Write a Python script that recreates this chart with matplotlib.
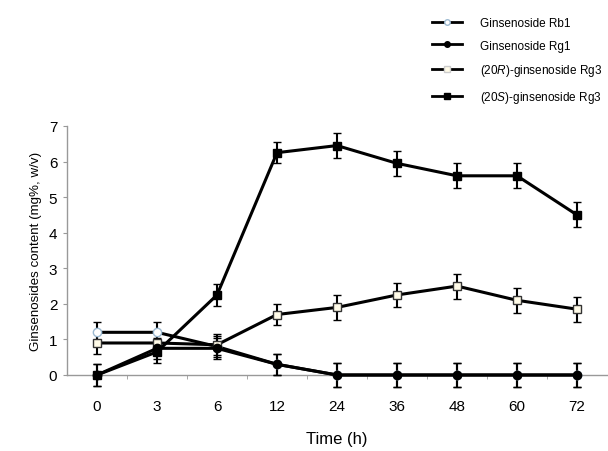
import numpy as np
import matplotlib.pyplot as plt
from matplotlib.lines import Line2D
from matplotlib.ticker import FixedLocator

plt.rcParams['font.family'] = ['Liberation Sans', 'DejaVu Sans']
plt.rcParams['mathtext.fontset'] = 'custom'
plt.rcParams['mathtext.rm'] = 'Liberation Sans'
plt.rcParams['mathtext.it'] = 'Liberation Sans:italic'

times = ['0', '3', '6', '12', '24', '36', '48', '60', '72']
rb1 = [1.2, 1.2, 0.8, 0.3, 0, 0, 0, 0, 0]
rg1 = [0, 0.75, 0.75, 0.3, 0, 0, 0, 0, 0]
rg3_20r = [0.9, 0.9, 0.85, 1.7, 1.9, 2.25, 2.5, 2.1, 1.85]
rg3_20s = [0, 0.65, 2.25, 6.25, 6.45, 5.95, 5.6, 5.6, 4.5]
err = [0.3, 0.3, 0.3, 0.3, 0.35, 0.35, 0.35, 0.35, 0.35]

labels = ['Ginsenoside Rb1', 'Ginsenoside Rg1',
          '(20$\\mathit{R}$)-ginsenoside Rg3', '(20$\\mathit{S}$)-ginsenoside Rg3']

fig = plt.figure(figsize=(6.08, 4.52), dpi=100)
ax = fig.add_axes([67/608, 1-376/452, 540/608, 249/452])

x = np.arange(len(times))
series = [
    (rb1, 'o', 'white', '#9bb8d0'),
    (rg3_20r, 's', '#fffbe8', '#333333'),
    (rg1, 'o', 'black', 'black'),
    (rg3_20s, 's', 'black', 'black'),
]
for vals, mk, fc, ec in series:
    ax.errorbar(x, vals, yerr=err, color='black', lw=2.2, marker=mk, ms=6,
                mfc=fc, mec=ec, mew=1, ecolor='black', elinewidth=1.5,
                capsize=3, capthick=1.5, clip_on=False, zorder=3)

ax.set_xlim(-0.5, len(times) - 0.5)
ax.set_ylim(0, 7)
ax.set_xticks(x)
ax.set_xticklabels(times)
ax.xaxis.set_minor_locator(FixedLocator(np.arange(0.5, len(times) - 0.5, 1)))
ax.tick_params(axis='x', which='major', length=0, pad=17, labelsize=11)
ax.tick_params(axis='x', which='minor', length=3, color='#999999')
ax.tick_params(axis='y', length=3, color='#999999', labelsize=11, pad=4)
ax.set_yticks(range(8))
for s in ['top', 'right']:
    ax.spines[s].set_visible(False)
for s in ['left', 'bottom']:
    ax.spines[s].set_color('#999999')
    ax.spines[s].set_linewidth(1)

ax.set_xlabel('Time (h)', fontsize=12, labelpad=13)
ax.set_ylabel('Ginsenosides content (mg%, w/v)', fontsize=9.6, labelpad=5)

handles = [
    Line2D([], [], color='black', lw=2, marker='o', ms=4, mfc='white', mec='#9bb8d0'),
    Line2D([], [], color='black', lw=2, marker='o', ms=4, mfc='black', mec='black'),
    Line2D([], [], color='black', lw=2, marker='s', ms=4, mfc='#fffbe8', mec='#cccccc'),
    Line2D([], [], color='black', lw=2, marker='s', ms=4, mfc='black', mec='black'),
]
fig.legend(handles, labels, loc='upper left', bbox_to_anchor=(432/608, 1 - 18/452),
           frameon=False, fontsize=8.5, handlelength=2.5, labelspacing=0.9,
           handletextpad=1.6, borderaxespad=0, borderpad=0)

fig.savefig('out.png', dpi=100)
